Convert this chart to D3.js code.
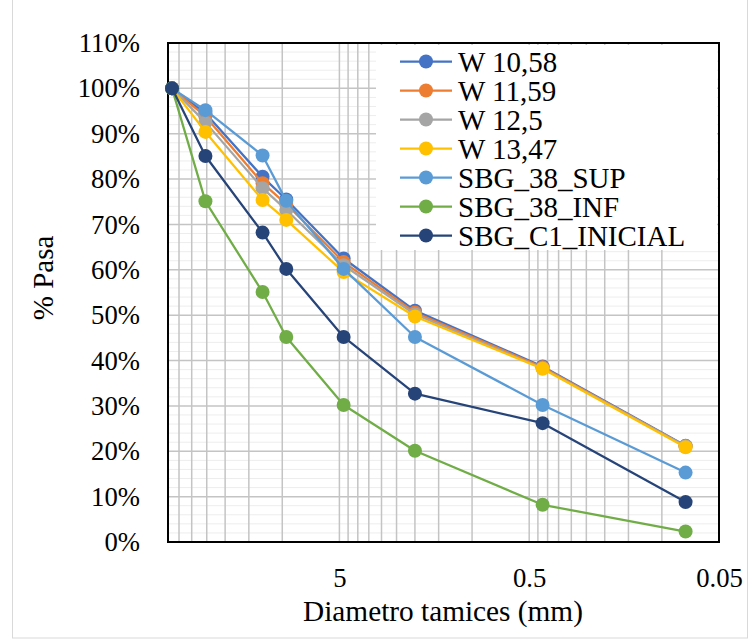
<!DOCTYPE html>
<html>
<head>
<meta charset="utf-8">
<script src="https://cdn.jsdelivr.net/npm/d3@7/dist/d3.min.js"></script>
<style>
  html, body { margin: 0; padding: 0; background: #fff; }
  svg { display: block; }
  text { font-family: "Liberation Serif", "Times New Roman", serif; fill: #000; }
</style>
</head>
<body>
<svg id="chart" width="754" height="642"></svg>
<script>
// ---- Data ----
const sieves = [38.1, 25.4, 12.7, 9.525, 4.75, 2.0, 0.425, 0.075]; // mm
const seriesNames = ["W 10,58", "W 11,59", "W 12,5", "W 13,47", "SBG_38_SUP", "SBG_38_INF", "SBG_C1_INICIAL"];
const w1058 = [100, 94.5, 80.5, 75.5, 62.5, 51.0, 38.7, 21.2];
const w1159 = [100, 93.8, 79.1, 74.5, 61.7, 50.6, 38.5, 21.1];
const w125 = [100, 92.5, 78.0, 73.2, 61.0, 50.2, 38.3, 21.1];
const w1347 = [100, 90.4, 75.4, 71.0, 59.5, 49.7, 38.2, 20.9];
const sbg38sup = [100, 95.2, 85.2, 75.2, 60.2, 45.2, 30.2, 15.3];
const sbg38inf = [100, 75.1, 55.1, 45.2, 30.2, 20.1, 8.2, 2.3];
const sbgC1 = [100, 85.1, 68.2, 60.2, 45.2, 32.7, 26.2, 8.8];
const seriesValues = [w1058, w1159, w125, w1347, sbg38sup, sbg38inf, sbgC1];
const colors = ["#4472C4", "#ED7D31", "#A5A5A5", "#FFC000", "#5B9BD5", "#70AD47", "#264478"];
const xTickLabels = [5, 0.5, 0.05];
const yTicks = [0, 10, 20, 30, 40, 50, 60, 70, 80, 90, 100, 110];

// ---- Layout ----
const svg = d3.select("#chart");
const L = 168, R = 719, T = 43, B = 542;
const x = d3.scaleLog().domain([40, 0.05]).range([L, R]);
const y = d3.scaleLinear().domain([0, 110]).range([B, T]);

// chart border
svg.append("rect").attr("x", 12.5).attr("y", -1).attr("width", 735).attr("height", 639)
  .attr("fill", "#fff").attr("stroke", "#d9d9d9").attr("stroke-width", 1);

// minor horizontal gridlines (2%)
const g = svg.append("g");
for (let v = 2; v < 110; v += 2) {
  if (v % 10 === 0) continue;
  g.append("line").attr("x1", L).attr("x2", R).attr("y1", y(v)).attr("y2", y(v))
    .attr("stroke", "#ededed").attr("stroke-width", 1);
}
// vertical gridlines (log major+minor)
const vgrid = [];
for (let n = 0; n < 3; n++) {
  for (let k = 1; k <= 9; k++) {
    const v = 0.05 * k * Math.pow(10, n);
    if (v <= 40.0001) vgrid.push(v);
  }
}
vgrid.forEach(v => {
  g.append("line").attr("x1", x(v)).attr("x2", x(v)).attr("y1", T).attr("y2", B)
    .attr("stroke", "#c4c4c4").attr("stroke-width", 1.5);
});
// major horizontal gridlines
yTicks.forEach(v => {
  g.append("line").attr("x1", L).attr("x2", R).attr("y1", y(v)).attr("y2", y(v))
    .attr("stroke", "#c4c4c4").attr("stroke-width", 1.5);
});

// plot border
svg.append("rect").attr("x", L).attr("y", T).attr("width", R - L).attr("height", B - T)
  .attr("fill", "none").attr("stroke", "#000").attr("stroke-width", 2);

// axes labels
const yAxis = d3.axisLeft(y).tickValues(yTicks).tickSize(0).tickPadding(28).tickFormat(d => d + "%");
const ya = svg.append("g").attr("transform", `translate(${L},0)`).call(yAxis);
ya.select(".domain").remove();
ya.selectAll("text").style("font-family", "Liberation Serif").style("font-size", "26.7px");

const xAxis = d3.axisBottom(x).tickValues(xTickLabels).tickSize(0).tickPadding(26).tickFormat(d => String(d));
const xa = svg.append("g").attr("transform", `translate(0,${B})`).call(xAxis);
xa.select(".domain").remove();
xa.selectAll("text").style("font-family", "Liberation Serif").style("font-size", "26.7px");

// axis titles
svg.append("text").attr("x", 443).attr("y", 621).attr("text-anchor", "middle")
  .style("font-size", "29.3px").text("Diametro tamices (mm)");
svg.append("text").attr("transform", "translate(53,278) rotate(-90)").attr("text-anchor", "middle")
  .style("font-size", "29px").text("% Pasa");

// series
const line = d3.line().x(d => x(d[0])).y(d => y(d[1]));
seriesValues.forEach((vals, i) => {
  const pts = sieves.map((s, j) => [s, vals[j]]);
  const sg = svg.append("g");
  sg.append("path").datum(pts).attr("d", line).attr("fill", "none")
    .attr("stroke", colors[i]).attr("stroke-width", 2.25).attr("stroke-linejoin", "round");
  sg.selectAll("circle").data(pts).enter().append("circle")
    .attr("cx", d => x(d[0])).attr("cy", d => y(d[1])).attr("r", 7).attr("fill", colors[i]);
});

// legend
const lg = svg.append("g");
lg.append("rect").attr("x", 376).attr("y", 45).attr("width", 341).attr("height", 205).attr("fill", "#fff");
seriesNames.forEach((name, i) => {
  const cy = 61.5 + i * 29;
  lg.append("line").attr("x1", 400).attr("x2", 452).attr("y1", cy).attr("y2", cy)
    .attr("stroke", colors[i]).attr("stroke-width", 2.25);
  lg.append("circle").attr("cx", 426).attr("cy", cy).attr("r", 7).attr("fill", colors[i]);
  lg.append("text").attr("x", 458).attr("y", cy + 10).style("font-size", "29px").text(name);
});
</script>
</body>
</html>
